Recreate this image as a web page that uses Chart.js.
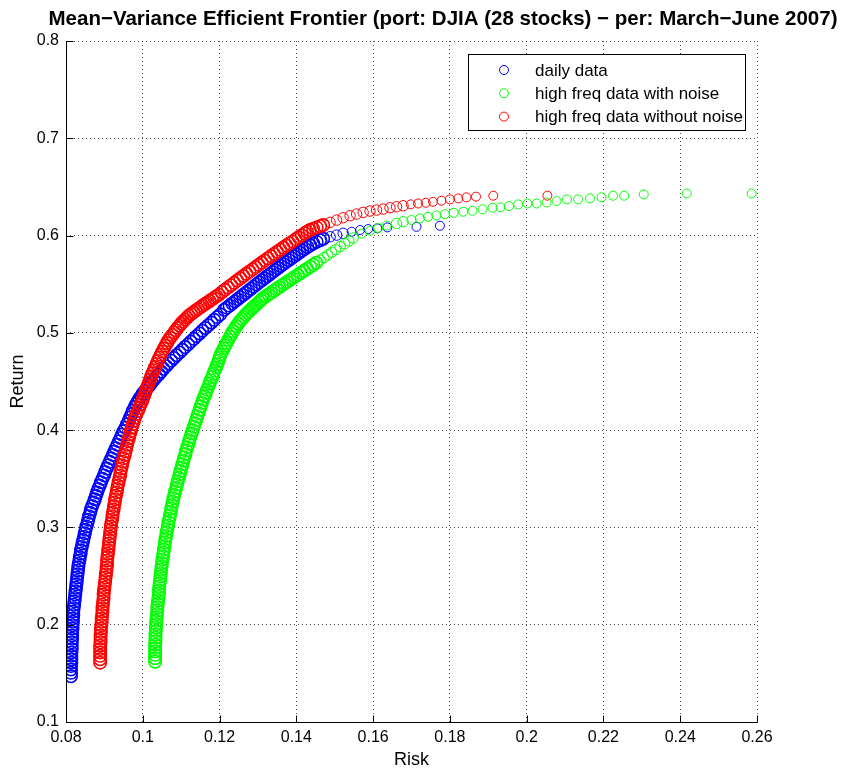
<!DOCTYPE html>
<html>
<head>
<meta charset="utf-8">
<script src="https://cdn.jsdelivr.net/npm/chart.js@4.4.1/dist/chart.umd.min.js"></script>
<style>
  html, body { margin: 0; padding: 0; background: #fff; }
</style>
</head>
<body>
<canvas id="myChart" width="843" height="772"></canvas>
<script>
// frontier points: [risk, return]
const dailyData = [
  [0.0813,0.147],[0.0813,0.1505],[0.0813,0.154],[0.0813,0.1575],[0.0814,0.161],[0.0814,0.1645],[0.0814,0.168],[0.0814,0.1715],[0.0815,0.175],[0.0815,0.1785],[0.0815,0.182],[0.0816,0.1855],[0.0816,0.189],
  [0.0816,0.1925],[0.0817,0.196],[0.0817,0.1995],[0.0818,0.203],[0.0818,0.2065],[0.0819,0.210],[0.0819,0.2135],[0.0820,0.217],[0.0821,0.2205],[0.0822,0.224],[0.0823,0.2275],[0.0824,0.231],[0.0825,0.2345],[0.0826,0.238],[0.0827,0.2415],[0.0828,0.245],[0.0829,0.2485],[0.0830,0.252],[0.0831,0.2555],[0.0832,0.259],[0.0833,0.2625],[0.0835,0.266],[0.0836,0.2695],[0.0838,0.273],[0.0839,0.2765],[0.0841,0.280],[0.0843,0.2835],[0.0845,0.287],[0.0847,0.2905],[0.0849,0.294],
  [0.0851,0.2975],[0.0853,0.301],[0.0856,0.3045],[0.0858,0.308],[0.0860,0.3115],[0.0863,0.315],[0.0865,0.3185],[0.0868,0.322],[0.0872,0.3255],[0.0875,0.329],[0.0878,0.3325],[0.0881,0.336],[0.0884,0.3395],[0.0888,0.343],[0.0891,0.3465],[0.0895,0.350],[0.0899,0.3535],[0.0902,0.357],[0.0906,0.3605],[0.0910,0.364],[0.0914,0.3675],[0.0918,0.371],[0.0922,0.3745],[0.0926,0.378],[0.0930,0.3815],[0.0934,0.385],[0.0938,0.3885],[0.0942,0.392],[0.0946,0.3955],[0.0950,0.399],[0.0955,0.4025],[0.0959,0.406],[0.0963,0.4095],[0.0967,0.413],[0.0971,0.4165],[0.0974,0.420],
  [0.0979,0.4238],[0.0983,0.4266],[0.0987,0.4294],[0.0991,0.4322],[0.0996,0.4350],[0.1000,0.4378],[0.1006,0.4406],[0.1012,0.4434],[0.1018,0.4462],[0.1023,0.4490],[0.1029,0.4518],[0.1035,0.4546],[0.1042,0.4574],[0.1048,0.4602],[0.1054,0.4630],[0.1061,0.4658],[0.1067,0.4686],[0.1074,0.4714],[0.1081,0.4742],[0.1088,0.4770],[0.1096,0.4798],[0.1103,0.4826],[0.1110,0.4854],[0.1118,0.4882],[0.1125,0.4910],[0.1133,0.4938],[0.1140,0.4966],[0.1148,0.4994],[0.1155,0.5022],[0.1163,0.5050],[0.1171,0.5078],[0.1179,0.5106],[0.1186,0.5134],[0.1194,0.5162],[0.1202,0.5190],
  [0.1212,0.5237],[0.1219,0.5259],[0.1226,0.5280],[0.1233,0.5302],[0.1240,0.5324],[0.1247,0.5345],[0.1254,0.5367],[0.1261,0.5389],[0.1268,0.5410],[0.1275,0.5432],[0.1282,0.5454],[0.1289,0.5475],[0.1296,0.5497],[0.1303,0.5519],[0.1310,0.5540],[0.1317,0.5561],[0.1324,0.5582],[0.1331,0.5603],[0.1338,0.5624],[0.1345,0.5645],[0.1352,0.5666],[0.1359,0.5687],[0.1366,0.5707],[0.1373,0.5727],[0.1380,0.5747],[0.1387,0.5767],[0.1394,0.5787],[0.1401,0.5806],
  [0.1408,0.5826],[0.1415,0.5846],[0.1422,0.5865],[0.1429,0.5883],[0.1436,0.5900],[0.1444,0.5918],[0.1453,0.5935],[0.1462,0.5952],[0.1470,0.5967],[0.1488,0.5988],[0.1505,0.6005],[0.1522,0.6023],[0.1544,0.6039],[0.1566,0.6057],[0.1587,0.6067],[0.1611,0.6074],[0.1637,0.6084],[0.1713,0.6090],[0.1774,0.6101]
];

const hfNoiseData = [
  [0.1032,0.162],[0.1032,0.1655],[0.1032,0.169],[0.1032,0.1725],[0.1032,0.176],[0.1032,0.1795],[0.1033,0.183],[0.1033,0.1865],[0.1033,0.190],
  [0.1034,0.1935],[0.1034,0.197],[0.1035,0.2005],[0.1035,0.204],[0.1036,0.2075],[0.1037,0.211],[0.1038,0.2145],[0.1038,0.218],[0.1039,0.2215],[0.1040,0.225],[0.1041,0.2285],[0.1042,0.232],[0.1042,0.2355],[0.1043,0.239],[0.1044,0.2425],[0.1045,0.246],[0.1046,0.2495],[0.1047,0.253],[0.1048,0.2565],[0.1049,0.260],[0.1050,0.2635],[0.1051,0.267],[0.1053,0.2705],[0.1054,0.274],[0.1055,0.2775],[0.1057,0.281],[0.1058,0.2845],[0.1059,0.288],[0.1061,0.2915],[0.1062,0.295],
  [0.1064,0.2985],[0.1066,0.302],[0.1067,0.3055],[0.1069,0.309],[0.1071,0.3125],[0.1073,0.316],[0.1074,0.3195],[0.1076,0.323],[0.1078,0.3265],[0.1080,0.330],[0.1082,0.3335],[0.1084,0.337],[0.1087,0.3405],[0.1089,0.344],[0.1091,0.3475],[0.1094,0.351],[0.1096,0.3545],[0.1098,0.358],[0.1101,0.3615],[0.1103,0.365],[0.1106,0.3685],[0.1108,0.372],[0.1111,0.3755],[0.1113,0.379],[0.1116,0.3825],[0.1119,0.386],[0.1121,0.3895],[0.1124,0.393],[0.1127,0.3965],[0.1130,0.400],[0.1133,0.4035],[0.1136,0.407],[0.1139,0.4105],[0.1142,0.414],[0.1145,0.4175],[0.1148,0.421],[0.1151,0.4245],[0.1154,0.428],[0.1157,0.4315],
  [0.1161,0.4348],[0.1164,0.4381],[0.1167,0.4414],[0.1171,0.4447],[0.1174,0.4480],[0.1177,0.4513],[0.1181,0.4546],[0.1184,0.4579],[0.1187,0.4612],[0.1191,0.4645],[0.1194,0.4678],[0.1197,0.4711],[0.1200,0.4744],[0.1203,0.4777],[0.1207,0.4810],
  [0.1211,0.4840],[0.1215,0.4870],[0.1219,0.4900],[0.1223,0.4930],[0.1227,0.4960],[0.1231,0.4988],[0.1235,0.5016],[0.1240,0.5044],[0.1244,0.5070],[0.1249,0.5096],[0.1253,0.5120],[0.1258,0.5142],[0.1263,0.5164],[0.1268,0.5186],[0.1273,0.5206],[0.1278,0.5226],[0.1283,0.5245],[0.1288,0.5264],[0.1293,0.5282],[0.1298,0.5300],[0.1303,0.5318],[0.1308,0.5336],
  [0.1313,0.5355],[0.1320,0.5374],[0.1327,0.5393],[0.1334,0.5412],[0.1341,0.5431],[0.1348,0.5450],[0.1355,0.5469],[0.1362,0.5488],[0.1369,0.5506],[0.1376,0.5524],[0.1383,0.5542],[0.1390,0.5560],[0.1397,0.5578],[0.1404,0.5596],
  [0.1412,0.5618],[0.1420,0.5638],[0.1428,0.5659],[0.1436,0.5680],[0.1444,0.5700],[0.1452,0.5720],[0.1462,0.5747],[0.1472,0.5774],[0.1482,0.5801],[0.1492,0.5828],[0.1502,0.5855],[0.1514,0.5886],[0.1526,0.5916],[0.1537,0.5945],[0.1548,0.5975],
  [0.1570,0.6020],[0.1592,0.6050],[0.1613,0.6078],[0.1635,0.6103],[0.1661,0.6125],[0.1678,0.6142],[0.1700,0.6160],[0.1722,0.6177],[0.1743,0.6193],[0.1765,0.6207],[0.1787,0.6220],[0.1810,0.6234],[0.1835,0.6245],[0.1859,0.6255],[0.1885,0.6270],[0.1911,0.6286],[0.1932,0.6290],[0.1954,0.6303],[0.1978,0.6320],[0.2002,0.6330],[0.2026,0.6330],[0.2052,0.6341],[0.2078,0.6355],[0.2105,0.6372],[0.2134,0.6372],[0.2165,0.6382],[0.2195,0.6393],[0.2225,0.6410],[0.2254,0.6410],[0.2305,0.6423],[0.2417,0.6433],[0.2586,0.6433]
];

const hfCleanData = [
  [0.0889,0.161],[0.0889,0.1645],[0.0889,0.168],[0.0889,0.1715],[0.0889,0.175],[0.0889,0.1785],[0.0890,0.182],[0.0890,0.1855],[0.0890,0.189],
  [0.0891,0.1925],[0.0891,0.196],[0.0892,0.1995],[0.0893,0.203],[0.0893,0.2065],[0.0894,0.210],[0.0895,0.2135],[0.0895,0.217],[0.0896,0.2205],[0.0897,0.224],[0.0898,0.2275],[0.0898,0.231],[0.0899,0.2345],[0.0900,0.238],[0.0901,0.2415],[0.0902,0.245],[0.0903,0.2485],[0.0904,0.252],[0.0905,0.2555],[0.0906,0.259],[0.0907,0.2625],[0.0907,0.266],[0.0908,0.2695],[0.0909,0.273],[0.0910,0.2765],[0.0911,0.280],[0.0912,0.2835],[0.0913,0.287],[0.0914,0.2905],[0.0915,0.294],
  [0.0916,0.2975],[0.0917,0.301],[0.0918,0.3045],[0.0920,0.308],[0.0921,0.3115],[0.0922,0.315],[0.0924,0.3185],[0.0925,0.322],[0.0927,0.3255],[0.0928,0.329],[0.0930,0.3325],[0.0932,0.336],[0.0933,0.3395],[0.0935,0.343],[0.0937,0.3465],[0.0939,0.350],[0.0941,0.3535],[0.0942,0.357],[0.0944,0.3605],[0.0946,0.364],[0.0948,0.3675],[0.0950,0.371],[0.0953,0.3745],[0.0955,0.378],[0.0957,0.3815],[0.0959,0.385],[0.0961,0.3885],[0.0964,0.392],[0.0966,0.3955],[0.0969,0.399],[0.0971,0.4025],[0.0974,0.406],[0.0977,0.4095],[0.0980,0.413],[0.0983,0.4165],
  [0.0988,0.4200],[0.0991,0.4232],[0.0994,0.4264],[0.0998,0.4296],[0.1001,0.4328],[0.1004,0.4360],[0.1007,0.4392],[0.1009,0.4424],[0.1013,0.4456],[0.1016,0.4488],[0.1019,0.4520],[0.1022,0.4552],[0.1025,0.4584],[0.1029,0.4616],[0.1032,0.4648],[0.1036,0.4680],[0.1039,0.4712],[0.1043,0.4744],[0.1047,0.4776],[0.1051,0.4808],[0.1055,0.4838],[0.1059,0.4868],[0.1063,0.4896],[0.1067,0.4924],[0.1072,0.4952],[0.1077,0.4978],[0.1082,0.5004],[0.1086,0.5028],[0.1091,0.5052],[0.1096,0.5074],[0.1100,0.5096],[0.1105,0.5116],[0.1110,0.5136],[0.1115,0.5156],[0.1120,0.5176],[0.1126,0.5194],[0.1132,0.5212],[0.1138,0.5230],[0.1144,0.5247],[0.1151,0.5264],[0.1156,0.5280],[0.1162,0.5296],[0.1168,0.5312],[0.1174,0.5328],[0.1180,0.5344],[0.1186,0.5360],[0.1192,0.5376],[0.1198,0.5392],
  [0.1206,0.5418],[0.1214,0.5442],[0.1222,0.5466],[0.1230,0.5490],[0.1238,0.5514],[0.1246,0.5538],[0.1254,0.5561],[0.1262,0.5584],[0.1270,0.5607],[0.1278,0.5630],[0.1286,0.5653],[0.1294,0.5676],[0.1302,0.5699],[0.1310,0.5722],[0.1318,0.5745],[0.1326,0.5767],[0.1334,0.5789],[0.1342,0.5811],[0.1350,0.5833],[0.1358,0.5855],[0.1366,0.5877],[0.1374,0.5898],[0.1382,0.5919],[0.1390,0.5940],[0.1398,0.5961],[0.1406,0.5982],
  [0.1414,0.6004],[0.1422,0.6024],[0.1428,0.6040],[0.1435,0.6057],[0.1444,0.6071],[0.1453,0.6084],[0.1462,0.6096],[0.1470,0.6108],[0.1488,0.6136],[0.1505,0.6159],[0.1522,0.6183],[0.1540,0.6204],[0.1557,0.6221],[0.1574,0.6238],[0.1592,0.6252],[0.1609,0.6262],[0.1626,0.6272],[0.1644,0.6286],[0.1661,0.6296],[0.1678,0.6306],[0.1698,0.6321],[0.1717,0.6330],[0.1737,0.6337],[0.1756,0.6347],[0.1778,0.6358],[0.1800,0.6372],[0.1822,0.6382],[0.1843,0.6393],[0.1868,0.6400],[0.1913,0.6410],[0.2054,0.6410]
];

const seriesNames = ['daily data', 'high freq data with noise', 'high freq data without noise'];
const seriesColors = ['#0000ff', '#00ff00', '#ff0000'];

const xTicks = [0.08, 0.10, 0.12, 0.14, 0.16, 0.18, 0.20, 0.22, 0.24, 0.26];
const xTickLabels = ['0.08', '0.1', '0.12', '0.14', '0.16', '0.18', '0.2', '0.22', '0.24', '0.26'];
const yTicks = [0.1, 0.2, 0.3, 0.4, 0.5, 0.6, 0.7, 0.8];
const yTickLabels = ['0.1', '0.2', '0.3', '0.4', '0.5', '0.6', '0.7', '0.8'];

const chartTitle = 'Mean\u2212Variance Efficient Frontier (port: DJIA (28 stocks) \u2212 per: March\u2212June 2007)';
const FONT = "'Liberation Sans', Arial, Helvetica, sans-serif";

const toPoints = arr => arr.map(p => ({ x: p[0], y: p[1] }));

// pixel distance to the nearest neighbour on the same curve
function neighbourGap(c) {
  const d = c.dataset.data, i = c.dataIndex, s = c.chart.scales;
  if (!s.x || !s.y) return Infinity;
  const gap = j => {
    if (j < 0 || j >= d.length) return Infinity;
    return Math.hypot(s.x.getPixelForValue(d[j].x) - s.x.getPixelForValue(d[i].x),
                      s.y.getPixelForValue(d[j].y) - s.y.getPixelForValue(d[i].y));
  };
  return Math.min(gap(i - 1), gap(i + 1));
}

// where the markers pile up the band gets thicker, like the original
function markerRadius(c) {
  const g = neighbourGap(c);
  if (g < 4.5) return 6.2;
  if (g < 7) return 5.2;
  return 4.5;
}
function markerWidth(c) {
  return neighbourGap(c) < 4.5 ? 1.6 : 1;
}

// axis lines + inward ticks (matlab style, no box)
const axesPlugin = {
  id: 'axesPlugin',
  afterDraw(chart) {
    const { ctx, chartArea: a, scales } = chart;
    ctx.save();
    ctx.strokeStyle = '#000';
    ctx.lineWidth = 1;
    ctx.beginPath();
    const l = Math.round(a.left) + 0.5, b = Math.round(a.bottom) + 0.5;
    ctx.moveTo(l, a.top);
    ctx.lineTo(l, b);
    ctx.lineTo(a.right + 0.5, b);
    xTicks.forEach(v => {
      const px = Math.round(scales.x.getPixelForValue(v)) + 0.5;
      ctx.moveTo(px, b);
      ctx.lineTo(px, b - 7);
    });
    yTicks.forEach(v => {
      const py = Math.round(scales.y.getPixelForValue(v)) + 0.5;
      ctx.moveTo(l, py);
      ctx.lineTo(l + 7, py);
    });
    ctx.stroke();
    ctx.restore();
  }
};

// title and legend box
const labelsPlugin = {
  id: 'labelsPlugin',
  afterDraw(chart) {
    const ctx = chart.ctx;
    ctx.save();
    ctx.fillStyle = '#000';
    ctx.font = 'bold 20.5px ' + FONT;
    ctx.textAlign = 'center';
    ctx.textBaseline = 'middle';
    ctx.fillText(chartTitle, 443, 19);

    // legend
    const bx = 468.5, by = 54.5, bw = 277, bh = 76;
    ctx.fillStyle = '#fff';
    ctx.fillRect(bx, by, bw, bh);
    ctx.strokeStyle = '#000';
    ctx.lineWidth = 1;
    ctx.strokeRect(bx, by, bw, bh);
    ctx.font = '17px ' + FONT;
    ctx.textAlign = 'left';
    seriesNames.forEach((name, i) => {
      const cy = 70 + i * 23.3;
      ctx.beginPath();
      ctx.strokeStyle = seriesColors[i];
      ctx.arc(504, cy, 4.5, 0, Math.PI * 2);
      ctx.stroke();
      ctx.fillStyle = '#000';
      ctx.fillText(name, 535, cy + 1);
    });
    ctx.restore();
  }
};

const ctx = document.getElementById('myChart').getContext('2d');
const sets = [dailyData, hfNoiseData, hfCleanData];

const myChart = new Chart(ctx, {
  type: 'scatter',
  data: {
    datasets: sets.map((d, i) => ({
      label: seriesNames[i],
      data: toPoints(d),
      borderColor: seriesColors[i],
      backgroundColor: 'rgba(0,0,0,0)',
      pointRadius: markerRadius,
      pointBorderWidth: markerWidth,
      pointHoverRadius: markerRadius,
      order: 2 - i
    }))
  },
  options: {
    responsive: false,
    animation: false,
    events: [],
    layout: { padding: { top: 41, right: 86, left: 0, bottom: 0 } },
    plugins: {
      legend: { display: false },
      title: { display: false },
      tooltip: { enabled: false }
    },
    scales: {
      x: {
        type: 'linear',
        min: 0.08,
        max: 0.26,
        afterBuildTicks: s => { s.ticks = xTicks.map(v => ({ value: v })); },
        afterFit: s => { s.height = 50; },
        ticks: {
          autoSkip: false,
          maxRotation: 0,
          padding: 6,
          color: '#000',
          font: { family: FONT, size: 16 },
          callback: (v, i) => xTickLabels[i]
        },
        grid: { color: 'rgba(0,0,0,0.7)', lineWidth: 1, drawTicks: false },
        border: { display: false, dash: [1, 3] },
        title: { display: true, text: 'Risk', color: '#000', font: { family: FONT, size: 18 }, padding: { top: 0, bottom: 1 } }
      },
      y: {
        type: 'linear',
        min: 0.1,
        max: 0.8,
        afterBuildTicks: s => { s.ticks = yTicks.map(v => ({ value: v })); },
        afterFit: s => { s.width = 66; },
        ticks: {
          autoSkip: false,
          padding: 7,
          color: '#000',
          font: { family: FONT, size: 16 },
          callback: (v, i) => yTickLabels[i]
        },
        grid: { color: 'rgba(0,0,0,0.7)', lineWidth: 1, drawTicks: false },
        border: { display: false, dash: [1, 3] },
        title: { display: true, text: 'Return', color: '#000', font: { family: FONT, size: 18 }, padding: { top: 7, bottom: 0 } }
      }
    }
  },
  plugins: [axesPlugin, labelsPlugin]
});
</script>
</body>
</html>
